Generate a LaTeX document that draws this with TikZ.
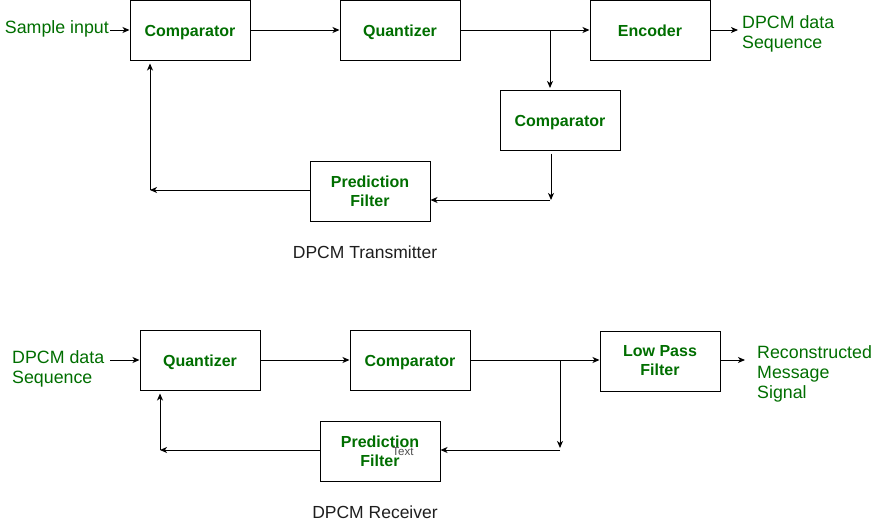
\documentclass[tikz,border=0pt]{standalone}
\usepackage{fontspec}
\setmainfont{Liberation Sans}
\usetikzlibrary{arrows.meta}
\definecolor{tg}{RGB}{0,110,0}
\definecolor{tt}{RGB}{30,30,30}
\tikzset{
  blk/.style={draw, line width=1pt, minimum width=120pt, minimum height=60pt, inner sep=0pt,
    align=center, text=tg, font=\bfseries\fontsize{16}{19}\selectfont},
  one/.style={text height=13.4pt, text depth=0pt},
  lbl/.style={inner sep=0pt, align=left, text=tg, font=\fontsize{17.8}{20}\selectfont},
  ttl/.style={inner sep=0pt, text=tt, font=\fontsize{17.5}{20}\selectfont},
  arr/.style={line width=1pt, -{Stealth[length=7pt,width=6pt,inset=2pt]}}
}
\begin{document}
\begin{tikzpicture}[x=1pt,y=-1pt]
\useasboundingbox (0,0) rectangle (886,522);
% transmitter
\node[blk, one] (comp1) at (190,30) {Comparator};
\node[blk, one] (quant1) at (400,30) {Quantizer};
\node[blk, one] (enc) at (650,30) {Encoder};
\node[blk, one] (comp2) at (560,120) {Comparator};
\node[blk] (pf1) at (370,191) {Prediction\\Filter};
\node[lbl, anchor=east] (sin) at (109,29) {Sample input};
\node[lbl, anchor=west] (dout) at (742,34) {DPCM data\\Sequence};
\node[ttl] (t1) at (365,252) {DPCM Transmitter};
\coordinate (b1) at (550,30);
\coordinate (c1) at (551,200);
\coordinate (c2) at (150,190);
\draw[arr] ([xshift=1pt]sin.east |- comp1.west) -- (comp1.west);
\draw[arr] (comp1.east) -- (quant1.west);
\draw[arr] (quant1.east) -- (enc.west);
\draw[arr, shorten >=1.5pt] (b1) -- (b1 |- comp2.north);
\draw[arr, shorten <=3pt] (c1 |- comp2.south) -- (c1);
\draw[arr] ([xshift=-1pt]c1) -- (pf1.east |- c1);
\draw[arr] (pf1.west |- c2) -- (c2);
\draw[arr, shorten >=3pt] (c2) -- (c2 |- comp1.south);
\draw[arr, shorten >=4pt] (enc.east) -- (enc.east -| dout.west);
% receiver
\node[blk, one] (quant2) at (200,360) {Quantizer};
\node[blk, one] (comp3) at (410,360) {Comparator};
\node[blk] (lpf) at (660,361) {Low Pass\\Filter};
\node[blk] (pf2) at (380,451) {Prediction\\Filter};
\node[inner sep=0pt, text=black!70, font=\fontsize{11.5}{12}\selectfont] (tx) at (403,452) {Text};
\node[lbl, anchor=west] (din) at (12,369) {DPCM data\\Sequence};
\node[lbl, anchor=west] (rout) at (757,374) {Reconstructed\\Message\\Signal};
\node[ttl] (t2) at (375,512) {DPCM Receiver};
\coordinate (b2) at (560,360);
\coordinate (c3) at (560,450);
\coordinate (c4) at (160,450);
\coordinate (s2) at (110,360);
\draw[arr] (s2) -- (quant2.west);
\draw[arr] (quant2.east) -- (comp3.west);
\draw[arr] (comp3.east) -- (lpf.west |- b2);
\draw[arr, shorten >=2pt] (b2) -- (c3);
\draw[arr] (c3) -- (pf2.east |- c3);
\draw[arr] (pf2.west |- c4) -- (c4);
\draw[arr, shorten >=3pt] (c4) -- (c4 |- quant2.south);
\draw[arr, shorten >=12pt] (lpf.east |- b2) -- (lpf.east |- b2 -| rout.west);
\end{tikzpicture}
\end{document}
